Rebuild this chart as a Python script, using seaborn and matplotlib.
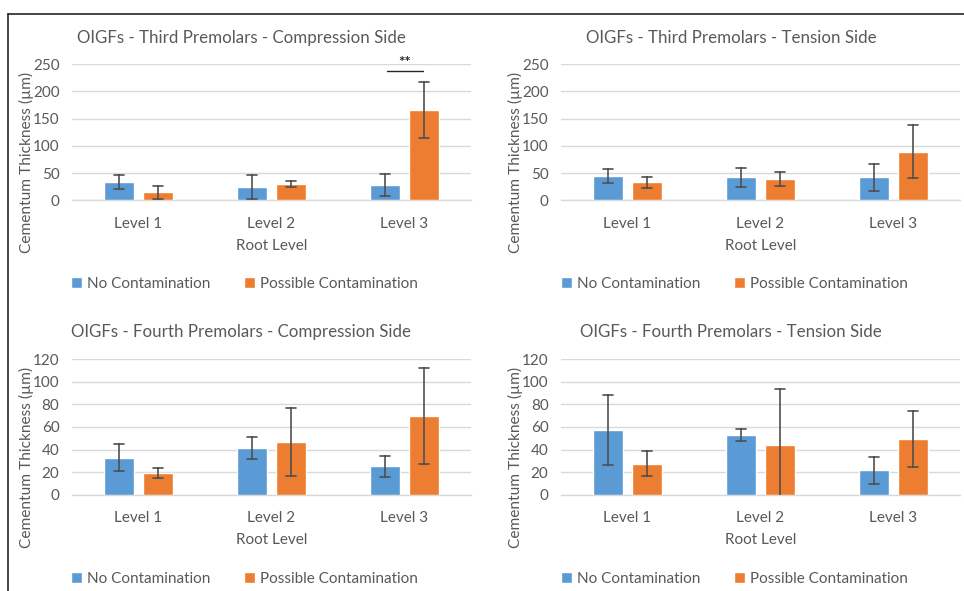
import numpy as np
import pandas as pd
import seaborn as sns
import matplotlib
matplotlib.use("Agg")
import matplotlib.pyplot as plt
from matplotlib.lines import Line2D

levels = ["Level 1", "Level 2", "Level 3"]
groups = ["No Contamination", "Possible Contamination"]

titles = [
    "OIGFs - Third Premolars - Compression Side",
    "OIGFs - Third Premolars - Tension Side",
    "OIGFs - Fourth Premolars - Compression Side",
    "OIGFs - Fourth Premolars - Tension Side",
]

# means and SDs per panel
p1_no_mean = [33.5, 25, 28]
p1_no_sd = [13, 22, 21]
p1_pc_mean = [14.5, 30, 166]
p1_pc_sd = [11.5, 5, 52]

p2_no_mean = [44.5, 42, 42]
p2_no_sd = [13, 17, 24]
p2_pc_mean = [33.5, 39.5, 89.5]
p2_pc_sd = [10, 13, 48]

p3_no_mean = [32.8, 41.4, 25.1]
p3_no_sd = [12, 9.6, 9]
p3_pc_mean = [19.2, 46.4, 70]
p3_pc_sd = [4.5, 30, 42.6]

p4_no_mean = [57, 52.9, 21.6]
p4_no_sd = [31, 5, 12]
p4_pc_mean = [27.5, 44.3, 49.4]
p4_pc_sd = [11.3, 49, 25]

panels = [
    (p1_no_mean, p1_no_sd, p1_pc_mean, p1_pc_sd),
    (p2_no_mean, p2_no_sd, p2_pc_mean, p2_pc_sd),
    (p3_no_mean, p3_no_sd, p3_pc_mean, p3_pc_sd),
    (p4_no_mean, p4_no_sd, p4_pc_mean, p4_pc_sd),
]
y_max = [250, 250, 120, 120]
y_step = [50, 50, 20, 20]

colors = ["#5B9BD5", "#ED7D31"]
TXT = "#595959"
GRID = "#D9D9D9"

sns.set_theme(style="white")
plt.rcParams["font.family"] = ["Lato", "DejaVu Sans"]

W, H = 964, 591
fig = plt.figure(figsize=(W / 100, H / 100), dpi=100)

def px_axes(left, top, right, bottom):
    return fig.add_axes([left / W, 1 - bottom / H, (right - left) / W, (bottom - top) / H])

ax_boxes = [
    (72, 64.3, 471, 200.3),
    (561, 64.3, 960, 200.3),
    (72, 359.3, 471, 494.7),
    (561, 359.3, 960, 494.7),
]
title_pos = [(241, 38), (731, 38), (241, 332), (731, 332)]
legend_pos = [(244, 284), (734, 284), (244, 579), (734, 579)]

def minmax(v):
    return (v.min(), v.max())

for i, (box, (nm, ns, pm, ps)) in enumerate(zip(ax_boxes, panels)):
    ax = px_axes(*box)
    rows = []
    for j, lev in enumerate(levels):
        for g, m, s in ((groups[0], nm[j], ns[j]), (groups[1], pm[j], ps[j])):
            rows.append((lev, g, m - s))
            rows.append((lev, g, m + s))
    df = pd.DataFrame(rows, columns=["level", "group", "value"])
    sns.barplot(data=df, x="level", y="value", hue="group", order=levels,
                hue_order=groups, palette=colors, estimator="mean",
                errorbar=minmax, width=0.58, gap=0.22, capsize=0.15,
                err_kws={"color": "#505050", "linewidth": 1.2, "zorder": 5},
                saturation=1, ax=ax, zorder=3)
    ax.set_ylim(0, y_max[i])
    ax.set_xlim(-0.5, 2.5)
    ax.set_yticks(np.arange(0, y_max[i] + 1, y_step[i]))
    ax.yaxis.grid(True, color=GRID, linewidth=1, zorder=0)
    ax.set_axisbelow(True)
    for sp in ["top", "right", "left"]:
        ax.spines[sp].set_visible(False)
    ax.spines["bottom"].set_color(GRID)
    ax.spines["bottom"].set_linewidth(1)
    ax.tick_params(axis="both", length=0, labelsize=11, colors=TXT)
    ax.tick_params(axis="y", pad=9)
    ax.tick_params(axis="x", pad=12)
    ax.set_xlabel("Root Level", fontsize=11, color=TXT)
    ax.set_ylabel("Cementum Thickness (µm)", fontsize=11.2, color=TXT)
    ax.yaxis.set_label_coords(-0.094, 0.277)
    ax.xaxis.set_label_coords(0.5, -0.285)
    handles, labels = ax.get_legend_handles_labels()
    ax.get_legend().remove()
    fig.legend(handles, labels, loc="center",
               bbox_to_anchor=(legend_pos[i][0] / W, 1 - legend_pos[i][1] / H),
               ncol=2, frameon=False, fontsize=11, labelcolor=TXT,
               handlelength=0.75, handleheight=0.75, handletextpad=0.3,
               columnspacing=2.2)
    fig.text(title_pos[i][0] / W, 1 - title_pos[i][1] / H, titles[i],
             ha="center", va="center", fontsize=12.2, color=TXT)
    if i == 0:
        ax.plot([1.868, 2.139], [238, 238], color="#262626", linewidth=1,
                clip_on=False, zorder=5)
        ax.text(2.0, 239, "**", ha="center", va="bottom", fontsize=11,
                fontweight="bold", color="#262626", clip_on=False)

# page frame
fig.add_artist(Line2D([8 / W, 1], [1 - 14 / H, 1 - 14 / H], color="#262626",
                      linewidth=1.2, transform=fig.transFigure))
fig.add_artist(Line2D([8 / W, 8 / W], [0, 1 - 14 / H], color="#262626",
                      linewidth=1.2, transform=fig.transFigure))

fig.savefig("out.png", dpi=100, facecolor="white")
